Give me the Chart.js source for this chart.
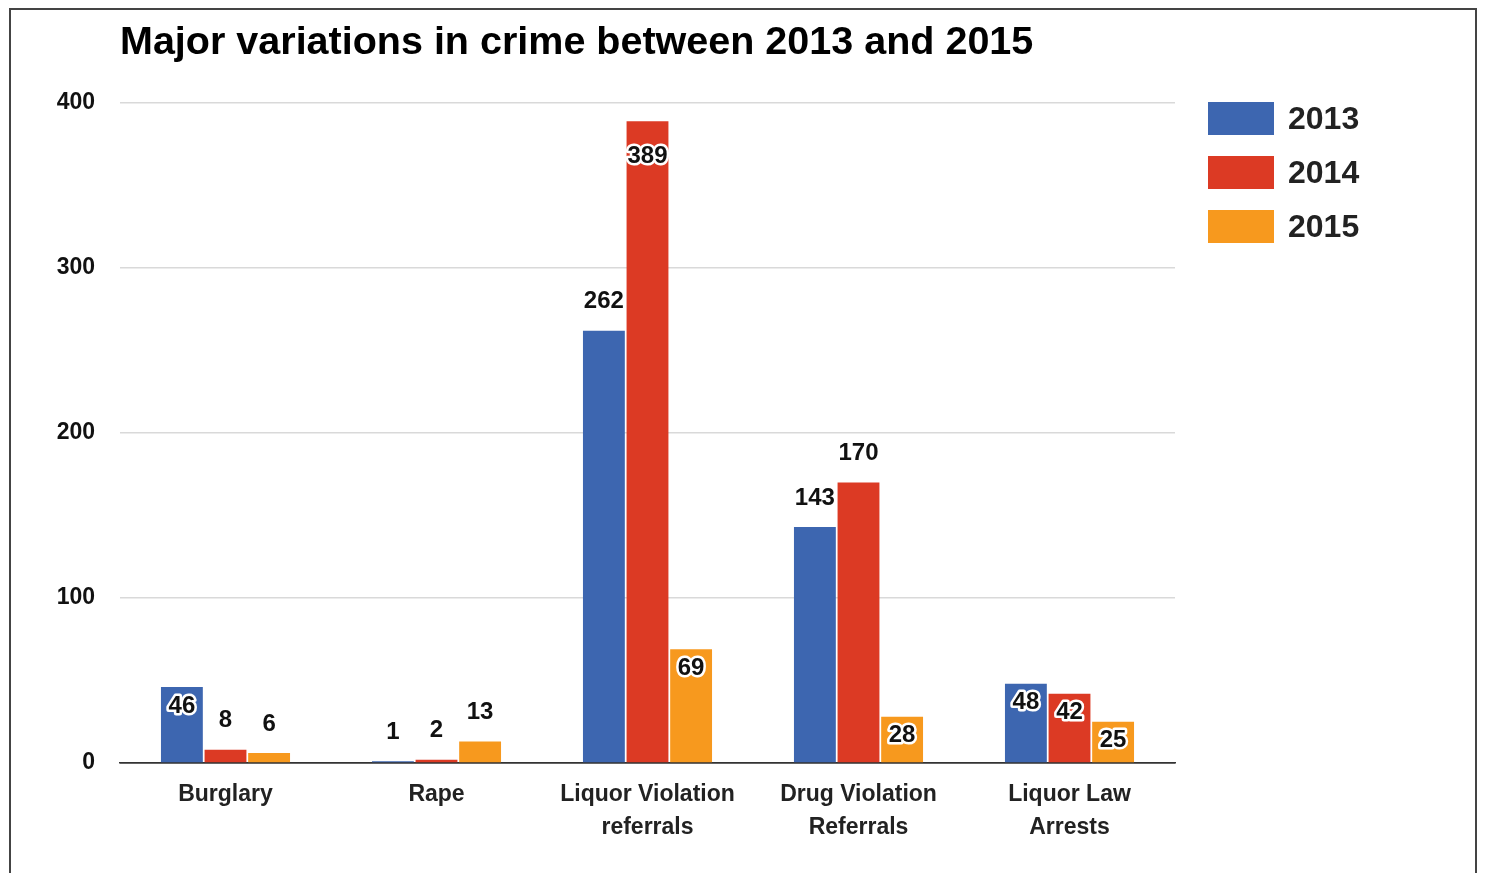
<!DOCTYPE html>
<html>
<head>
<meta charset="utf-8">
<script src="https://cdn.jsdelivr.net/npm/chart.js@4"></script>
<style>
  html, body { margin: 0; padding: 0; background: #fff; }
  #wrap { position: relative; width: 1489px; height: 873px; }
  #frame {
    position: absolute; left: 9px; top: 8px; width: 1468px; height: 900px;
    border: 2px solid #444; pointer-events: none; box-sizing: border-box;
  }
</style>
</head>
<body>
<div id="wrap">
  <canvas id="chart" width="1489" height="873"></canvas>
  <div id="frame"></div>
</div>
<script>
// Chart data
const categories = ['Burglary', 'Rape', ['Liquor Violation', 'referrals'], ['Drug Violation', 'Referrals'], ['Liquor Law', 'Arrests']];
const years = ['2013', '2014', '2015'];
const values2013 = [46, 1, 262, 143, 48];
const values2014 = [8, 2, 389, 170, 42];
const values2015 = [6, 13, 69, 28, 25];
const yTicks = [0, 100, 200, 300, 400];

const colors = ['#3d66b0', '#dc3a24', '#f7991e'];

// which value labels sit inside the top of their bar (others go above)
const labelInside = [
    [true, false, false, false, true],
    [false, false, true, false, true],
    [false, false, true, true, true]
];

const FONT = '"Liberation Sans", Arial, sans-serif';

/**
 * Value labels on the bars
 */
const valueLabels = {
    id: 'valueLabels',
    afterDatasetsDraw(chart) {
        const ctx = chart.ctx;
        ctx.save();
        ctx.font = 'bold 24px ' + FONT;
        ctx.textAlign = 'center';
        ctx.textBaseline = 'middle';
        chart.data.datasets.forEach((ds, di) => {
            const meta = chart.getDatasetMeta(di);
            meta.data.forEach((bar, i) => {
                const text = String(ds.data[i]);
                if (labelInside[di][i]) {
                    const y = bar.y + (ds.data[i] > 300 ? 35 : 19);
                    ctx.lineJoin = 'round';
                    ctx.lineWidth = 5;
                    ctx.strokeStyle = '#fff';
                    ctx.strokeText(text, bar.x, y);
                    ctx.fillStyle = '#111';
                    ctx.fillText(text, bar.x, y);
                } else {
                    ctx.fillStyle = '#111';
                    ctx.fillText(text, bar.x, bar.y - 29);
                }
            });
        });
        ctx.restore();
    }
};

/**
 * Title and legend drawn on the right
 */
const titleAndLegend = {
    id: 'titleAndLegend',
    afterDraw(chart) {
        const ctx = chart.ctx;
        ctx.save();
        ctx.fillStyle = '#000';
        ctx.font = 'bold 39.5px ' + FONT;
        ctx.textAlign = 'left';
        ctx.textBaseline = 'middle';
        ctx.fillText('Major variations in crime between 2013 and 2015', 120, 43);

        ctx.font = 'bold 32px ' + FONT;
        chart.data.datasets.forEach((ds, i) => {
            const y = 119 + i * 54;
            ctx.fillStyle = ds.backgroundColor;
            ctx.fillRect(1208, y - 17, 66, 33);
            ctx.fillStyle = '#222';
            ctx.fillText(ds.label, 1288, y + 1);
        });
        ctx.restore();
    }
};

function init() {
    const ctx = document.getElementById('chart').getContext('2d');
    const seriesValues = [values2013, values2014, values2015];

    new Chart(ctx, {
        type: 'bar',
        data: {
            labels: categories,
            datasets: years.map((yr, i) => ({
                label: yr,
                data: seriesValues[i],
                backgroundColor: colors[i],
                borderWidth: 0,
                categoryPercentage: 0.62,
                barPercentage: 0.96
            }))
        },
        plugins: [valueLabels, titleAndLegend],
        options: {
            responsive: false,
            animation: false,
            layout: { padding: { top: 103, right: 314, left: 0, bottom: 0 } },
            plugins: {
                legend: { display: false },
                title: { display: false },
                tooltip: { enabled: false }
            },
            scales: {
                y: {
                    min: yTicks[0],
                    max: yTicks[yTicks.length - 1],
                    afterBuildTicks: scale => { scale.ticks = yTicks.map(v => ({ value: v })); },
                    afterFit: scale => { scale.width = 120; },
                    border: { display: false },
                    grid: {
                        drawTicks: false,
                        lineWidth: 1.5,
                        color: c => c.tick.value === 0 ? '#333' : '#d9d9d9'
                    },
                    ticks: {
                        padding: 25,
                        color: '#111',
                        font: { family: FONT, size: 23, weight: 'bold' }
                    }
                },
                x: {
                    afterFit: scale => { scale.height = 110; },
                    border: { color: '#333', width: 1.5 },
                    grid: { display: false },
                    ticks: {
                        padding: 7,
                        color: '#222',
                        maxRotation: 0,
                        autoSkip: false,
                        font: { family: FONT, size: 23, weight: 'bold', lineHeight: 1.45 }
                    }
                }
            }
        }
    });
}

init();
</script>
</body>
</html>
